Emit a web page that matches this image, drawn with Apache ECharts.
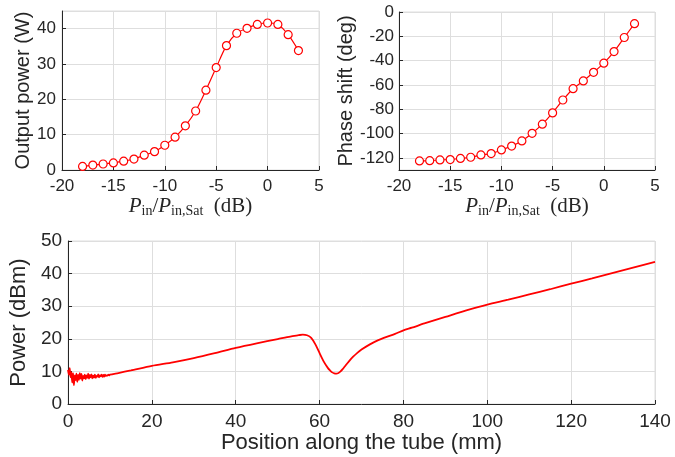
<!DOCTYPE html>
<html>
<head>
<meta charset="utf-8">
<script src="https://cdn.jsdelivr.net/npm/echarts@6/dist/echarts.min.js"></script>
<style>
html,body{margin:0;padding:0;background:#fff;}
#c{width:675px;height:457px;}
</style>
</head>
<body>
<div id="c"></div>
<script>
// ---- Data ----
const pinDb = [-18,-17,-16,-15,-14,-13,-12,-11,-10,-9,-8,-7,-6,-5,-4,-3,-2,-1,0,1,2,3];
const outputPowerW = [1.0,1.4,1.7,2.0,2.5,3.1,4.2,5.2,7.0,9.3,12.5,16.7,22.6,29.0,35.2,38.7,40.1,41.2,41.6,41.2,38.3,33.8];
const phaseShiftDeg = [-122.5,-122.3,-121.7,-121.4,-120.5,-119.5,-117.6,-116.5,-113.5,-110.3,-106.1,-99.8,-92.3,-83.0,-72.4,-63.1,-56.7,-49.6,-42.1,-32.6,-21.0,-9.6];

const positionMm = [
  0,0.2,0.4,0.6,0.8,1.0,1.2,1.4,1.6,1.8,2.0,2.2,2.4,2.6,2.8,3.0,3.2,3.4,3.6,3.8,
  4.0,4.2,4.4,4.6,4.8,5.0,5.2,5.4,5.6,5.8,6.0,6.2,6.4,6.6,6.8,7.0,7.2,7.4,7.6,7.8,
  8.0,8.2,8.4,8.6,8.8,9.0,9.2,9.4,9.6,9.8,10.0,
  12,15,20,25,30,35,40,45,50,53,55,56,57,58,59,60,61,62,
  62.5,63,63.5,64,64.5,65,65.5,66,67,68,69,70,72,74,76,78,
  80,82,85,90,95,100,105,110,115,120,125,130,135,140
];
const powerDbm = [
  10.5,9.0,11.0,8.2,9.8,6.6,9.5,5.8,8.8,7.3,9.3,6.8,8.9,7.4,9.5,7.8,9.2,7.2,8.6,7.9,
  9.0,7.6,8.8,8.0,9.3,7.8,8.9,8.2,9.1,7.9,8.7,8.1,9.0,8.0,8.6,8.4,9.1,8.2,8.8,8.5,
  9.0,8.3,8.9,8.4,9.0,8.6,8.8,8.7,9.0,8.8,9.0,
  9.5,10.3,11.7,12.8,14.1,15.6,17.2,18.6,19.9,20.7,21.1,21.3,21.1,20.3,18.3,15.6,13.0,11.0,
  10.3,9.7,9.4,9.3,9.5,10.0,10.7,11.5,13.1,14.5,15.7,16.7,18.3,19.6,20.6,21.5,
  22.6,23.4,24.7,26.7,28.7,30.5,32.0,33.6,35.2,36.9,38.5,40.2,41.9,43.6
];

// ---- Styles ----
const axisDark = '#262626';
const gridGray = '#dedede';
const tickFont = 'Liberation Sans, Arial, sans-serif';

function pairs(xs, ys){ return xs.map((x,i)=>[x, ys[i]]); }

const xName = '{i|P}{s|in}{n|/}{i|P}{s|in,Sat}{n|  (dB)}';
const xNameStyle = {
  color: axisDark,
  rich: {
    i: {fontFamily: 'Liberation Serif, serif', fontStyle: 'italic', fontSize: 21, lineHeight: 24, color: axisDark},
    n: {fontFamily: 'Liberation Serif, serif', fontSize: 21, lineHeight: 24, color: axisDark},
    s: {fontFamily: 'Liberation Serif, serif', fontSize: 14, lineHeight: 14, verticalAlign: 'bottom', padding: [6,0,0,0], color: axisDark}
  }
};

function valueAxis(opts){
  return Object.assign({
    type: 'value',
    axisLine: {show: true, onZero: false, lineStyle: {color: axisDark, width: 1}},
    axisTick: {show: true, inside: true, length: 4, lineStyle: {color: axisDark}},
    splitLine: {show: true, lineStyle: {color: gridGray, width: 1}},
    axisLabel: {color: axisDark, fontFamily: tickFont, fontSize: 16, margin: 6}
  }, opts);
}

const option = {
  animation: false,
  backgroundColor: '#fff',
  grid: [
    {left: 62, right: 356, top: 11, bottom: 287, show: true, borderColor: gridGray, borderWidth: 1},
    {left: 399, right: 20, top: 12, bottom: 287, show: true, borderColor: gridGray, borderWidth: 1},
    {left: 64, right: 20, top: 241, bottom: 53, show: true, borderColor: gridGray, borderWidth: 1}
  ],
  xAxis: [
    valueAxis({gridIndex: 0, min: -20, max: 5, interval: 5,
      axisLabel: {color: axisDark, fontFamily: tickFont, fontSize: 17, margin: 8},
      name: xName, nameLocation: 'middle', nameGap: 23, nameTextStyle: xNameStyle}),
    valueAxis({gridIndex: 1, min: -20, max: 5, interval: 5,
      axisLabel: {color: axisDark, fontFamily: tickFont, fontSize: 17, margin: 8},
      name: xName, nameLocation: 'middle', nameGap: 23, nameTextStyle: xNameStyle}),
    valueAxis({gridIndex: 2, min: 0, max: 140, interval: 20,
      axisLabel: {color: axisDark, fontFamily: tickFont, fontSize: 19, margin: 8},
      name: 'Position along the tube (mm)', nameLocation: 'middle', nameGap: 27,
      nameTextStyle: {color: axisDark, fontFamily: tickFont, fontSize: 22}})
  ],
  yAxis: [
    valueAxis({gridIndex: 0, min: 0, max: 45, splitNumber: 5,
      axisLabel: {color: axisDark, fontFamily: tickFont, fontSize: 17, margin: 6, showMaxLabel: false},
      name: 'Output power (W)', nameLocation: 'middle', nameGap: 29,
      nameTextStyle: {color: axisDark, fontFamily: tickFont, fontSize: 20}}),
    valueAxis({gridIndex: 1, min: -130, max: 0, splitNumber: 7,
      axisLabel: {color: axisDark, fontFamily: tickFont, fontSize: 17, margin: 5, showMinLabel: false},
      name: 'Phase shift (deg)', nameLocation: 'middle', nameGap: 43,
      nameTextStyle: {color: axisDark, fontFamily: tickFont, fontSize: 20}}),
    valueAxis({gridIndex: 2, min: 0, max: 50, interval: 10,
      axisLabel: {color: axisDark, fontFamily: tickFont, fontSize: 19, margin: 6},
      name: 'Power (dBm)', nameLocation: 'middle', nameGap: 31,
      nameTextStyle: {color: axisDark, fontFamily: tickFont, fontSize: 22}})
  ],
  series: [
    {type: 'line', xAxisIndex: 0, yAxisIndex: 0, data: pairs(pinDb, outputPowerW),
      smooth: 0.3, symbol: 'circle', symbolSize: 8, showAllSymbol: true,
      lineStyle: {color: '#ff0000', width: 1.2},
      itemStyle: {color: '#ffffff', borderColor: '#ff0000', borderWidth: 1.2}},
    {type: 'line', xAxisIndex: 1, yAxisIndex: 1, data: pairs(pinDb, phaseShiftDeg),
      smooth: 0.3, symbol: 'circle', symbolSize: 8, showAllSymbol: true,
      lineStyle: {color: '#ff0000', width: 1.2},
      itemStyle: {color: '#ffffff', borderColor: '#ff0000', borderWidth: 1.2}},
    {type: 'line', xAxisIndex: 2, yAxisIndex: 2, data: pairs(positionMm, powerDbm),
      smooth: 0.25, symbol: 'none', lineStyle: {color: '#ff0000', width: 1.8}}
  ]
};

const chart = echarts.init(document.getElementById('c'), null, {renderer: 'canvas'});
chart.setOption(option);
</script>
</body>
</html>
